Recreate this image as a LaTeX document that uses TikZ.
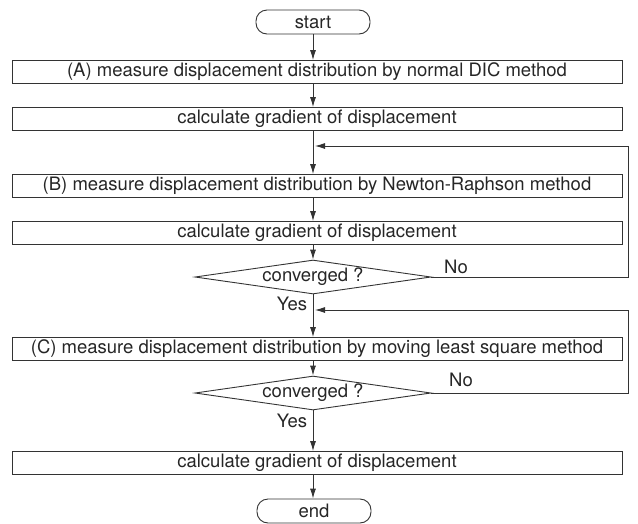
\documentclass[tikz,border=0pt]{standalone}
\usepackage{fontspec}
\setmainfont{TeX Gyre Heros}
\usetikzlibrary{shapes.geometric,arrows.meta}
\definecolor{ln}{gray}{0.2}
\tikzset{
  every node/.style={font=\fontsize{18.5}{20}\selectfont, text=black!85},
  stepbox/.style={draw=ln, line width=0.9pt, minimum width=610pt, minimum height=23pt, inner sep=0pt},
  term/.style={draw=ln, line width=0.9pt, rounded corners=11pt, minimum width=114pt, minimum height=24pt, inner sep=0pt},
  decide/.style={draw=ln, line width=0.9pt, diamond, aspect=7, minimum width=236pt, minimum height=34pt, inner sep=0pt},
  conn/.style={draw=ln, line width=0.9pt, -{Latex[length=10pt,width=6pt]}},
  plain/.style={draw=ln, line width=0.9pt},
  lbl/.style={inner sep=1pt}
}
\begin{document}
\begin{tikzpicture}[x=1pt,y=-1pt]
\useasboundingbox (0,0) rectangle (638,523);
\node[term] (start) at (313,22) {start};
\node[stepbox] (a) at (317,72) {(A) measure displacement distribution by normal DIC method};
\node[stepbox] (g1) at (317,119) {calculate gradient of displacement};
\node[stepbox] (b) at (317,186) {(B) measure displacement distribution by Newton-Raphson method};
\node[stepbox] (g2) at (317,233) {calculate gradient of displacement};
\node[decide] (d1) at (313,277) {converged ?};
\node[stepbox] (c) at (317,349) {(C) measure displacement distribution by moving least square method};
\node[decide] (d2) at (313,393) {converged ?};
\node[stepbox] (g3) at (317,463) {calculate gradient of displacement};
\node[term] (end) at (314,511) {end};

\coordinate (j1) at (313,146);
\coordinate (r1t) at (628,146);
\coordinate (r1b) at (628,277);
\coordinate (j2) at (313,310);
\coordinate (r2t) at (628,310);
\coordinate (r2b) at (628,393);

\draw[conn] (start.south -| j1) -- (a.north -| j1);
\draw[conn] (a.south -| j1) -- (g1.north -| j1);
\draw[conn] (g1.south -| j1) -- (b.north -| j1);
\draw[conn] (b.south -| j1) -- (g2.north -| j1);
\draw[conn] (g2.south -| j1) -- (d1.north);
\draw[conn] (d1.south) -- (c.north -| j1);
\draw[conn] (c.south -| j1) -- (d2.north);
\draw[conn] (d2.south) -- (g3.north -| j1);
\draw[conn] (g3.south -| j1) -- (end.north -| j1);

\draw[plain] (d1.east) -- (r1b) -- (r1t);
\draw[conn] (r1t) -- ([xshift=2pt]j1);
\draw[plain] (d2.east) -- (r2b) -- (r2t);
\draw[conn] (r2t) -- ([xshift=2pt]j2);

\node[lbl] (no1) at (456,267) {No};
\node[lbl] (yes1) at (292,304) {Yes};
\node[lbl] (no2) at (461,380) {No};
\node[lbl] (yes2) at (292,421) {Yes};
\end{tikzpicture}
\end{document}
